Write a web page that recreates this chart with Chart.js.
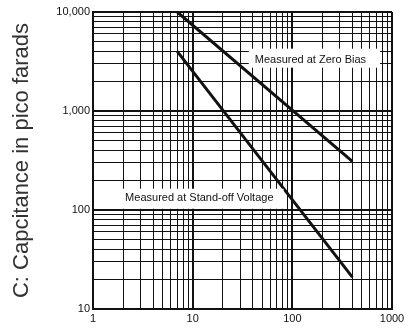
<!DOCTYPE html>
<html>
<head>
<meta charset="utf-8">
<script src="https://cdn.jsdelivr.net/npm/chart.js@4"></script>
<style>
  html, body { margin: 0; padding: 0; background: #fff; }
  #wrap { width: 412px; height: 329px; }
</style>
</head>
<body>
<div id="wrap"><canvas id="chart" width="412" height="329"></canvas></div>
<script>
// values (log-log)
const voltage = [7, 400];
const zeroBias = [10000, 310];
const standOff = [4000, 21];

const xDecades = [1, 10, 100, 1000];
const yDecades = [10, 100, 1000, 10000];

const FONT = "'Liberation Sans', Arial, sans-serif";
const INK = '#111';

function logTicks(min, max) {
  const out = [];
  for (let d = min; d < max; d *= 10) {
    for (let m = 1; m < 10; m++) out.push({ value: m * d });
  }
  out.push({ value: max });
  return out;
}

function isDecade(v, list) {
  return list.some(d => Math.abs(d - v) < 1e-9 * d);
}

// draws the two curve labels on white boxes
const curveLabels = {
  id: 'curveLabels',
  afterDatasetsDraw(chart) {
    const { ctx, scales } = chart;
    const items = [
      { text: 'Measured at Zero Bias', x: 42, y: 3300, box: [-6, 14, 6, 8] },
      { text: 'Measured at Stand-off Voltage', x: 2.1, y: 133, box: [-5, 10, 4, 11] }
    ];
    ctx.save();
    ctx.font = '11px ' + FONT;
    ctx.textBaseline = 'middle';
    items.forEach(it => {
      const px = scales.x.getPixelForValue(it.x);
      const py = scales.y.getPixelForValue(it.y);
      const w = ctx.measureText(it.text).width;
      const [l, r, t, b] = it.box;
      ctx.fillStyle = '#fff';
      ctx.fillRect(px + l, py - t - 5, w - l + r, t + b + 5);
      ctx.fillStyle = INK;
      ctx.fillText(it.text, px, py);
    });
    ctx.restore();
  }
};

new Chart(document.getElementById('chart'), {
  type: 'line',
  data: {
    datasets: [
      {
        label: 'Measured at Zero Bias',
        data: voltage.map((v, i) => ({ x: v, y: zeroBias[i] })),
        borderColor: INK,
        borderWidth: 3,
        pointRadius: 0
      },
      {
        label: 'Measured at Stand-off Voltage',
        data: voltage.map((v, i) => ({ x: v, y: standOff[i] })),
        borderColor: INK,
        borderWidth: 3,
        pointRadius: 0
      }
    ]
  },
  options: {
    responsive: false,
    animation: false,
    layout: { padding: { top: 12, right: 20, left: 0, bottom: 0 } },
    plugins: {
      legend: { display: false },
      tooltip: { enabled: false }
    },
    scales: {
      x: {
        type: 'logarithmic',
        min: 1,
        max: 1000,
        afterBuildTicks: s => { s.ticks = logTicks(1, 1000); },
        afterFit: s => { s.height = 20; },
        ticks: {
          autoSkip: false,
          maxRotation: 0,
          padding: 3,
          color: INK,
          font: { family: FONT, size: 11 },
          callback: v => isDecade(v, xDecades) ? String(v) : ''
        },
        grid: {
          color: INK,
          lineWidth: c => isDecade(c.tick.value, xDecades) ? 2 : 1,
          drawTicks: false
        },
        border: { color: INK, width: 2 }
      },
      y: {
        type: 'logarithmic',
        min: 10,
        max: 10000,
        afterBuildTicks: s => { s.ticks = logTicks(10, 10000); },
        afterFit: s => { s.width = 93; },
        title: {
          display: true,
          text: 'C: Capcitance in pico farads',
          color: '#333',
          font: { family: FONT, size: 22 },
          padding: { top: 9, bottom: 8 }
        },
        ticks: {
          autoSkip: false,
          padding: 3,
          color: INK,
          font: { family: FONT, size: 11 },
          callback: v => isDecade(v, yDecades) ? v.toLocaleString('en-US') : ''
        },
        grid: {
          color: INK,
          lineWidth: c => isDecade(c.tick.value, yDecades) ? 2 : 1,
          drawTicks: false
        },
        border: { color: INK, width: 2 }
      }
    }
  },
  plugins: [curveLabels]
});
</script>
</body>
</html>
